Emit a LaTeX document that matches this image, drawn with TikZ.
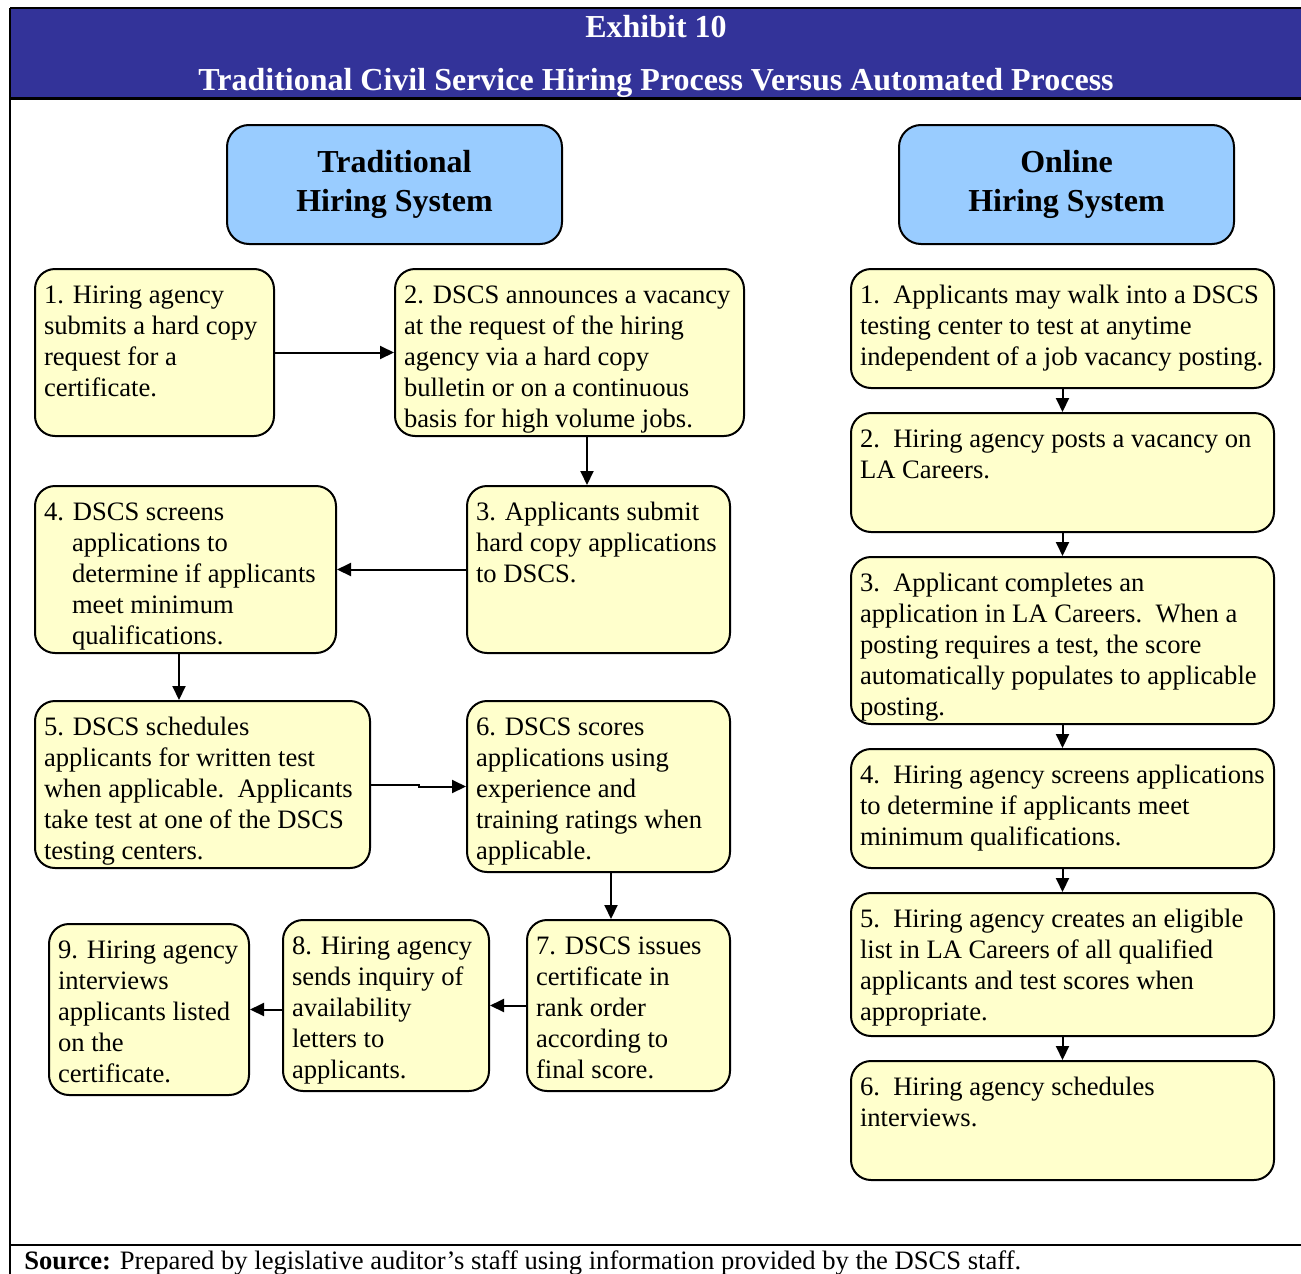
\documentclass[tikz,border=0pt]{standalone}
\usepackage{fontspec}
\setmainfont{Liberation Serif}
\usepackage{tikz}
\usetikzlibrary{arrows.meta}
\definecolor{bannerblue}{HTML}{333399}
\definecolor{headblue}{HTML}{99CCFF}
\definecolor{stepyellow}{HTML}{FFFFCC}
\newcommand{\boxtxt}[3]{\parbox[t][\dimexpr #2pt/2-13pt\relax][t]{\dimexpr #1pt/2-9pt\relax}{\begin{tabular}[t]{@{}l@{}}#3\end{tabular}}}
\tikzset{stepbox/.style={draw=black, line width=1pt, fill=stepyellow, rounded corners=10pt,
           anchor=north west, inner xsep=4.5pt, inner ysep=6.5pt,
           font=\fontsize{13.3}{15.5}\selectfont},
         headbox/.style={draw=black, line width=1pt, fill=headblue, rounded corners=11pt,
           anchor=north west, minimum width=167.5pt, minimum height=59.5pt, inner sep=0pt,
           align=center, font=\fontsize{16}{19.5}\selectfont\bfseries},
         flow/.style={line width=1pt, -{Triangle[length=7pt,width=6.5pt]}},
         titletext/.style={text=white, anchor=base, inner sep=0pt,
           font=\fontsize{16}{19.5}\selectfont\bfseries}}

\begin{document}
\begin{tikzpicture}[x=0.5pt, y=-0.5pt]
\useasboundingbox (0,0) rectangle (1301,1274);
\fill[bannerblue] (10,8) rectangle (1301,97);
\draw[line width=0.75pt] (10,8) -- (1301,8);
\draw[line width=1.5pt] (10,98) -- (1301,98);
\draw[line width=1pt] (10,8) -- (10,1274);
\draw[line width=1pt] (10,1245) -- (1301,1245);
\node[titletext] (ttl1) at (656,38) {Exhibit 10};
\node[titletext] (ttl2) at (656,90) {Traditional Civil Service Hiring Process Versus Automated Process};

\node[headbox] (h1) at (226,124) {Traditional\\Hiring System};
\node[headbox] (h2) at (898,124) {Online\\Hiring System};

\node[stepbox] (t1) at (34,268) {\boxtxt{239}{167}{1. Hiring agency\\ submits a hard copy\\ request for a\\ certificate.}};
\node[stepbox] (t2) at (394,268) {\boxtxt{349}{167}{2. DSCS announces a vacancy\\ at the request of the hiring\\ agency via a hard copy\\ bulletin or on a continuous\\ basis for high volume jobs.}};
\node[stepbox] (t3) at (466,485) {\boxtxt{263}{167}{3. Applicants submit\\ hard copy applications\\ to DSCS.}};
\node[stepbox] (t4) at (34,485) {\boxtxt{301}{167}{4. DSCS screens\\ \hspace*{14pt}applications to\\ \hspace*{14pt}determine if applicants\\ \hspace*{14pt}meet minimum\\ \hspace*{14pt}qualifications.}};
\node[stepbox] (t5) at (34,700) {\boxtxt{335}{167}{5. DSCS schedules\\ applicants for written test\\ when applicable.\ \ Applicants\\ take test at one of the DSCS\\ testing centers.}};
\node[stepbox] (t6) at (466,700) {\boxtxt{263}{171}{6. DSCS scores\\ applications using\\ experience and\\ training ratings when\\ applicable.}};
\node[stepbox] (t7) at (526,919) {\boxtxt{203}{171}{7. DSCS issues\\ certificate in\\ rank order\\ according to\\ final score.}};
\node[stepbox] (t8) at (282,919) {\boxtxt{206}{171}{8. Hiring agency\\ sends inquiry of\\ availability\\ letters to\\ applicants.}};
\node[stepbox] (t9) at (48,923) {\boxtxt{200}{171}{9. Hiring agency\\ interviews\\ applicants listed\\ on the\\ certificate.}};

\node[stepbox] (o1) at (850,268) {\boxtxt{423}{119}{1.\ \ Applicants may walk into a DSCS\\ testing center to test at anytime\\ independent of a job vacancy posting.}};
\node[stepbox] (o2) at (850,412) {\boxtxt{423}{119}{2.\ \ Hiring agency posts a vacancy on\\ LA Careers.}};
\node[stepbox] (o3) at (850,556) {\boxtxt{423}{167}{3.\ \ Applicant completes an\\ application in LA Careers.\ \ When a\\ posting requires a test, the score\\ automatically populates to applicable\\ posting.}};
\node[stepbox] (o4) at (850,748) {\boxtxt{423}{119}{4.\ \ Hiring agency screens applications\\ to determine if applicants meet\\ minimum qualifications.}};
\node[stepbox] (o5) at (850,892) {\boxtxt{423}{143}{5.\ \ Hiring agency creates an eligible\\ list in LA Careers of all qualified\\ applicants and test scores when\\ appropriate.}};
\node[stepbox] (o6) at (850,1060) {\boxtxt{423}{119}{6.\ \ Hiring agency schedules\\ interviews.}};

\draw[flow] (t1.east) -- (t2.west);
\draw[flow] ([xshift=8.75pt]t2.south) -- ([xshift=8.75pt]t2.south |- t3.north);
\draw[flow] (t3.west) -- (t4.east);
\draw[flow] ([xshift=-3.25pt]t4.south) -- ([xshift=-3.25pt]t4.south |- t5.north);
\draw[flow] (t5.east) -- ++(48,0) |- (t6.west);
\draw[flow] ([xshift=6.25pt]t6.south) -- ([xshift=6.25pt]t6.south |- t7.north);
\draw[flow] (t7.west) -- (t8.east);
\draw[flow] (t8.west |- t9.east) -- (t9.east);
\foreach \a/\b in {o1/o2,o2/o3,o3/o4,o4/o5,o5/o6}
  \draw[flow] (\a.south) -- (\b.north);

\node[anchor=base west, inner sep=0pt, font=\fontsize{13.3}{15.5}\selectfont] (src) at (24,1269)
  {\textbf{Source:} Prepared by legislative auditor's staff using information provided by the DSCS staff.};
\end{tikzpicture}
\end{document}
